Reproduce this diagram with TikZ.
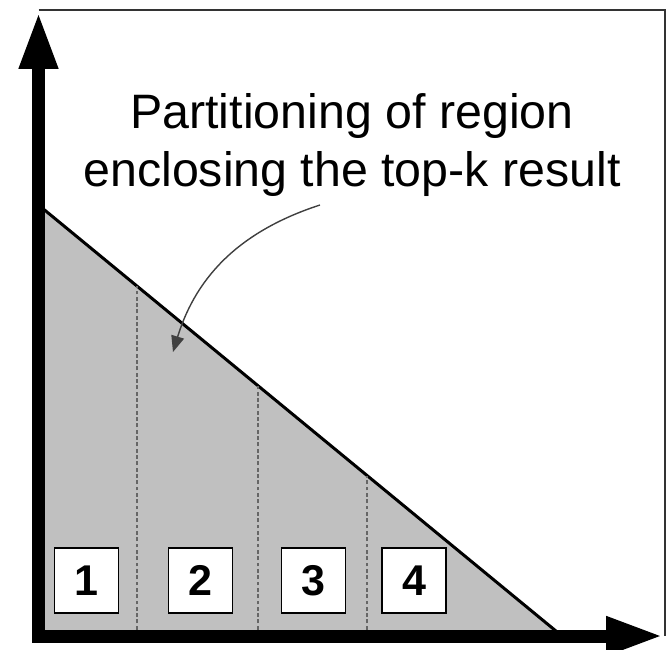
\documentclass[tikz,border=0pt]{standalone}
\usepackage{fontspec}
\setmainfont{Liberation Sans}
\usetikzlibrary{arrows.meta}
\definecolor{regiongray}{RGB}{192,192,192}
\tikzset{
  axis/.style={line width=7.4pt, line join=miter, {Triangle[length=1.14cm,width=0.72cm]}-{Triangle[length=1.14cm,width=0.72cm]}},
  part/.style={draw=black!60, line width=0.6pt, dash pattern=on 2.2pt off 1.4pt},
  numbox/.style={draw, fill=white, line width=1.1pt, minimum width=1.28cm, minimum height=1.3cm, inner sep=0pt, font=\fontsize{24.5}{26}\selectfont\bfseries}
}
\begin{document}
\begin{tikzpicture}[x=1cm,y=1cm]
\useasboundingbox (0,0) rectangle (13.42,12.98);
\coordinate (o) at (0.77,0.26);
\coordinate (ytip) at (0.77,12.74);
\coordinate (xtip) at (13.26,0.26);
\coordinate (top) at (0.77,8.88);
\coordinate (base) at (11.24,0.26);
\fill[regiongray] (o) -- (top) -- (base) -- cycle;
\draw[line width=1.7pt] (top) -- (base);
\draw[part] (2.74,0.26) -- (2.74,7.26);
\draw[part] (5.16,0.26) -- (5.16,5.27);
\draw[part] (7.34,0.26) -- (7.34,3.47);
\draw[black!80, line width=1.1pt] (0.77,12.78) -- (13.30,12.78) -- (13.30,0.26);
\draw[axis] (ytip) -- (o) -- (xtip);
\node[numbox] (n1) at (1.73,1.37) {1};
\node[numbox] (n2) at (4.01,1.37) {2};
\node[numbox] (n3) at (6.27,1.37) {3};
\node[numbox] (n4) at (8.28,1.37) {4};
\node[align=center, inner sep=0pt, font=\fontsize{27.5}{32.5}\selectfont] (lbl) at (7.04,10.08) {Partitioning of region\\enclosing the top-k result};
\coordinate (tail) at (6.40,8.88);
\coordinate (head) at (3.46,5.94);
\draw[black!75, line width=0.8pt, -{Triangle[length=0.32cm,width=0.26cm]}] (tail) to[out=198, in=73] (head);
\end{tikzpicture}
\end{document}
